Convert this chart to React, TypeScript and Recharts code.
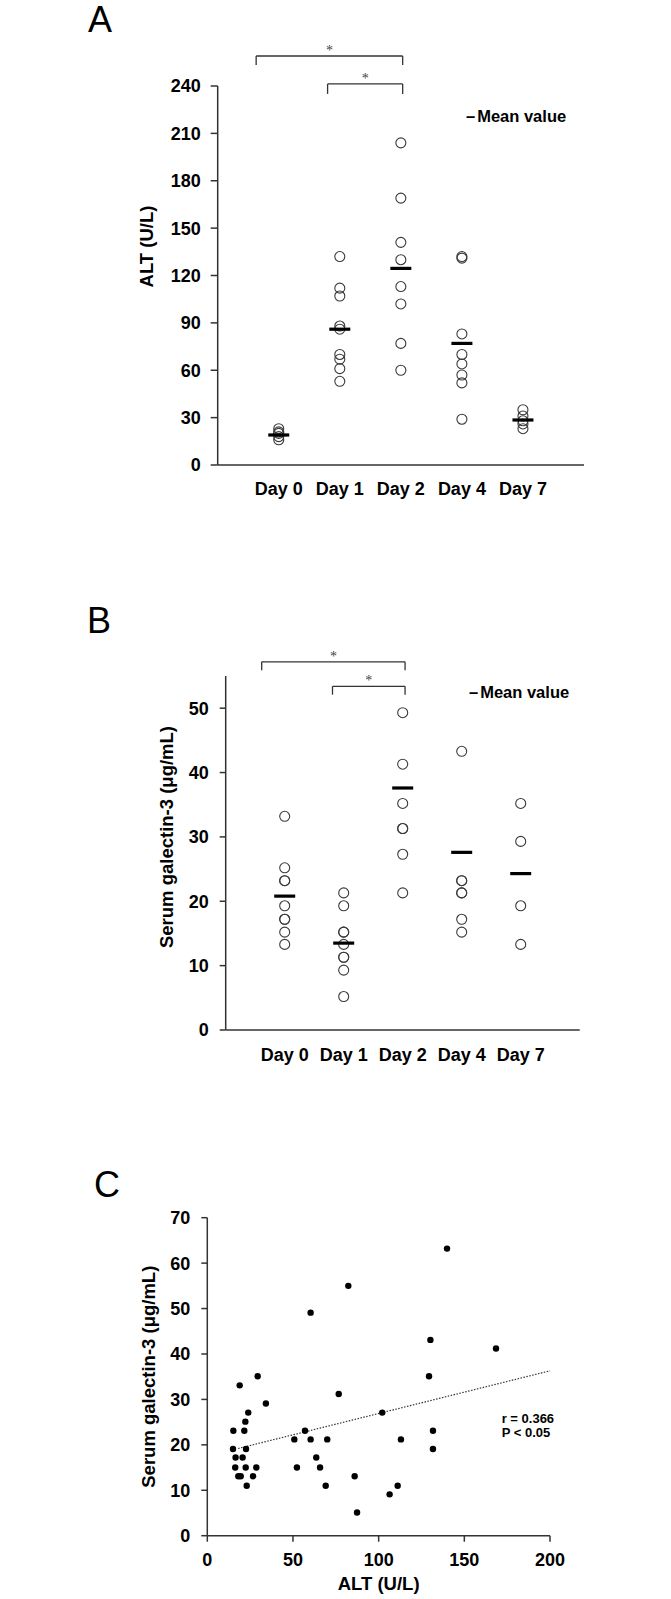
import React from 'react';
import { ScatterChart, Scatter, XAxis, YAxis, ReferenceLine } from 'recharts';

const dayLabels = ['Day 0', 'Day 1', 'Day 2', 'Day 4', 'Day 7'];

// Panel A: ALT (U/L)
const altDay0 = [23, 21, 20, 18, 16];
const altDay1 = [132, 112, 107, 88, 86, 70, 67, 61, 53];
const altDay2 = [204, 169, 141, 130, 113, 102, 77, 60];
const altDay4 = [132, 131, 83, 70, 64, 57, 52, 29];
const altDay7 = [35, 31, 28, 26, 23];
const altMeans = [19, 86, 124.5, 77, 28.5];
const altTicks = [0, 30, 60, 90, 120, 150, 180, 210, 240];

// Panel B: serum galectin-3 (ug/mL)
const galDay0 = [33.2, 25.2, 23.2, 23.2, 19.3, 17.2, 17.2, 15.2, 13.3];
const galDay1 = [21.3, 19.3, 15.2, 15.2, 13.3, 11.3, 11.3, 9.3, 5.2];
const galDay2 = [49.3, 41.3, 35.2, 31.3, 31.3, 27.3, 21.3];
const galDay4 = [43.3, 23.2, 23.2, 21.3, 21.3, 17.2, 15.2];
const galDay7 = [35.2, 29.3, 19.3, 13.3];
const galMeans = [20.8, 13.5, 37.6, 27.6, 24.3];
const galTicks = [0, 10, 20, 30, 40, 50];

// Panel C: correlation
const corrAlt = [15.2, 15, 16.5, 16.3, 18.9, 18.1, 19.5, 20.6, 21.6, 22.2, 22.6, 22.4, 23, 23.9, 26.7, 28.6, 29.4, 34.2, 50.8, 52.3, 57, 60.3, 60.3, 63.6, 65.8, 69.1, 70, 76.7, 82.3, 86, 87.4, 102.1, 106.4, 111.1, 113, 129.4, 130.2, 131.7, 131.7, 139.9, 168.5];
const corrGal = [23.1, 19.1, 17.2, 15, 33.1, 13.1, 13.1, 17.2, 23.1, 25.1, 19.1, 15, 11, 27.1, 13.1, 15, 35.1, 29.1, 21.2, 15, 23.1, 49.1, 21.2, 17.2, 15, 11, 21.2, 31.2, 55, 13.1, 5.1, 27.1, 9.1, 11, 21.2, 35.1, 43.1, 23.1, 19.1, 63.2, 41.2];
const trendAlt = [18, 200];
const trendGal = [19.2, 36.3];
const corrXTicks = [0, 50, 100, 150, 200];
const corrYTicks = [0, 10, 20, 30, 40, 50, 60, 70];

// significance brackets, in data units
const bracketsA = [
  { from: 0.63, to: 3.03, y: 259, drop: 253.3 },
  { from: 1.8, to: 3.03, y: 241.3, drop: 235 },
];
const bracketsB = [
  { from: 0.61, to: 3.04, y: 57.2, drop: 55.9 },
  { from: 1.81, to: 3.04, y: 53.4, drop: 52.1 },
];

const FONT = '"Liberation Sans", Arial, Helvetica, sans-serif';
const AXIS = '#333';
const tickStyle = { fill: '#000', fontSize: 18, fontWeight: 700, fontFamily: FONT };

const toPoints = (groups: number[][]) =>
  groups.flatMap((vals, i) => vals.map((v) => ({ x: i + 1, y: v })));
const meanPoints = (means: number[]) => means.map((m, i) => ({ x: i + 1, y: m }));

const altPoints = toPoints([altDay0, altDay1, altDay2, altDay4, altDay7]);
const galPoints = toPoints([galDay0, galDay1, galDay2, galDay4, galDay7]);
const corrPoints = corrAlt.map((x, i) => ({ x, y: corrGal[i] }));

const OpenCircle = (p: any) => (
  <circle cx={p.cx} cy={p.cy} r={5} fill="none" stroke="#3a3a3a" strokeWidth={1.1} />
);
const MeanBar = (p: any) => (
  <rect x={p.cx - 10.5} y={p.cy - 1.6} width={21} height={3.2} fill="#000" />
);
const Dot = (p: any) => <circle cx={p.cx} cy={p.cy} r={3.2} fill="#000" />;

const yTitle = (text: string, dx: number, dy: number) => (props: any) => {
  const vb = props.viewBox || {};
  const cx = vb.x + dx;
  const cy = vb.y + vb.height / 2 + dy;
  return (
    <text x={cx} y={cy} transform={`rotate(-90 ${cx} ${cy})`} textAnchor="middle"
      dominantBaseline="central" fill="#000" fontSize={18.5} fontWeight={700} fontFamily={FONT}>
      {text}
    </text>
  );
};

const xTitle = (text: string, dy: number) => (props: any) => {
  const vb = props.viewBox || {};
  return (
    <text x={vb.x + vb.width / 2} y={vb.y + dy} textAnchor="middle" dominantBaseline="central"
      fill="#000" fontSize={18.5} fontWeight={700} fontFamily={FONT}>
      {text}
    </text>
  );
};

const bracketLines = (list: typeof bracketsA, prefix: string) =>
  list.flatMap((b, i) => [
    <ReferenceLine key={`${prefix}h${i}`} segment={[{ x: b.from, y: b.y }, { x: b.to, y: b.y }]}
      stroke={AXIS} strokeWidth={1.3} ifOverflow="visible"
      label={{ value: '*', position: 'top', offset: 1, fill: '#444', fontSize: 14, fontFamily: '"Liberation Serif", serif' }} />,
    <ReferenceLine key={`${prefix}l${i}`} segment={[{ x: b.from, y: b.y }, { x: b.from, y: b.drop }]}
      stroke={AXIS} strokeWidth={1.3} ifOverflow="visible" />,
    <ReferenceLine key={`${prefix}r${i}`} segment={[{ x: b.to, y: b.y }, { x: b.to, y: b.drop }]}
      stroke={AXIS} strokeWidth={1.3} ifOverflow="visible" />,
  ]);

const letter = (ch: string, left: number, top: number) => (
  <div style={{ position: 'absolute', left, top, width: 40, textAlign: 'center', fontFamily: FONT,
    fontSize: 36, lineHeight: '36px', color: '#000' }}>{ch}</div>
);

const meanLegend = (left: number, top: number) => (
  <div style={{ position: 'absolute', left, top, fontFamily: FONT, fontSize: 16.5, fontWeight: 700,
    lineHeight: '20px', color: '#000', whiteSpace: 'nowrap' }}>
    <span style={{ marginRight: 2 }}>–</span>Mean value
  </div>
);

export default function App() {
  return (
    <div style={{ position: 'absolute', left: 0, top: 0, width: 671, height: 1599, background: '#fff' }}>
      {letter('A', 80, 2)}
      {letter('B', 79, 603)}
      {letter('C', 87, 1167)}

      <div style={{ position: 'absolute', left: 0, top: 0 }}>
        <ScatterChart width={671} height={520} margin={{ top: 86, right: 87, bottom: 15, left: 137.7 }}>
          <XAxis type="number" dataKey="x" domain={[0, 6]} ticks={[1, 2, 3, 4, 5]} height={40}
            tickFormatter={(v: number) => dayLabels[v - 1]} tickLine={false} tickSize={6} tickMargin={11}
            axisLine={{ stroke: AXIS, strokeWidth: 1.5 }} tick={tickStyle} interval={0} />
          <YAxis type="number" dataKey="y" domain={[0, 240]} ticks={altTicks} width={80}
            tickSize={7} tickMargin={10} axisLine={{ stroke: AXIS, strokeWidth: 1.5 }}
            tickLine={{ stroke: AXIS, strokeWidth: 1.5 }} tick={tickStyle} interval={0}
            label={{ content: yTitle('ALT (U/L)', 9, -29) }} />
          {bracketLines(bracketsA, 'a')}
          <Scatter data={altPoints} shape={OpenCircle} isAnimationActive={false} />
          <Scatter data={meanPoints(altMeans)} shape={MeanBar} isAnimationActive={false} />
        </ScatterChart>
      </div>
      {meanLegend(466, 106)}

      <div style={{ position: 'absolute', left: 0, top: 560 }}>
        <ScatterChart width={671} height={560} margin={{ top: 116, right: 91.3, bottom: 50, left: 145.7 }}>
          <XAxis type="number" dataKey="x" domain={[0, 6]} ticks={[1, 2, 3, 4, 5]} height={40}
            tickFormatter={(v: number) => dayLabels[v - 1]} tickLine={false} tickSize={6} tickMargin={12}
            axisLine={{ stroke: AXIS, strokeWidth: 1.5 }} tick={tickStyle} interval={0} />
          <YAxis type="number" dataKey="y" domain={[0, 55]} ticks={galTicks} width={80}
            tickSize={6} tickMargin={11} axisLine={{ stroke: AXIS, strokeWidth: 1.5 }}
            tickLine={{ stroke: AXIS, strokeWidth: 1.5 }} tick={tickStyle} interval={0}
            label={{ content: yTitle('Serum galectin-3 (μg/mL)', 21, -16) }} />
          {bracketLines(bracketsB, 'b')}
          <Scatter data={galPoints} shape={OpenCircle} isAnimationActive={false} />
          <Scatter data={meanPoints(galMeans)} shape={MeanBar} isAnimationActive={false} />
        </ScatterChart>
      </div>
      {meanLegend(469, 682)}

      <div style={{ position: 'absolute', left: 0, top: 1130 }}>
        <ScatterChart width={671} height={469} margin={{ top: 87.7, right: 121, bottom: 23.3, left: 127.3 }}>
          <XAxis type="number" dataKey="x" domain={[0, 200]} ticks={corrXTicks} height={40}
            tickSize={6} tickMargin={12} axisLine={{ stroke: AXIS, strokeWidth: 1.5 }}
            tickLine={{ stroke: AXIS, strokeWidth: 1.5 }} tick={tickStyle} interval={0}
            label={{ content: xTitle('ALT (U/L)', 48) }} />
          <YAxis type="number" dataKey="y" domain={[0, 70]} ticks={corrYTicks} width={80}
            tickSize={6} tickMargin={11} axisLine={{ stroke: AXIS, strokeWidth: 1.5 }}
            tickLine={{ stroke: AXIS, strokeWidth: 1.5 }} tick={tickStyle} interval={0}
            label={{ content: yTitle('Serum galectin-3 (μg/mL)', 21.3, 0) }} />
          <ReferenceLine segment={[{ x: trendAlt[0], y: trendGal[0] }, { x: trendAlt[1], y: trendGal[1] }]}
            stroke="#333" strokeWidth={1.2} strokeDasharray="1.5 1.5" />
          <Scatter data={corrPoints} shape={Dot} isAnimationActive={false} />
        </ScatterChart>
      </div>
      <div style={{ position: 'absolute', left: 501.7, top: 1412, fontFamily: FONT, fontSize: 13,
        fontWeight: 700, lineHeight: '14px', color: '#000', whiteSpace: 'nowrap' }}>
        r = 0.366<br />P &lt; 0.05
      </div>
    </div>
  );
}
